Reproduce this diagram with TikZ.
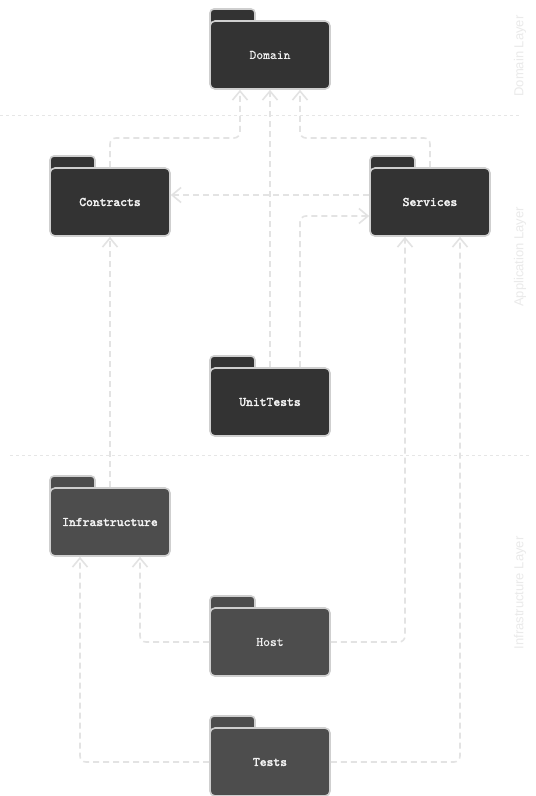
\documentclass[tikz,border=0pt]{standalone}
\usepackage{fontspec}
\setsansfont{Liberation Sans}
\newfontfamily\monob{lmmono10-regular.otf}[FakeBold=2.5]
\newfontfamily\monor{lmmono10-regular.otf}[FakeBold=0.3]
\usetikzlibrary{arrows.meta,calc}
\definecolor{darkA}{HTML}{333333}
\definecolor{darkB}{HTML}{4D4D4D}
\definecolor{foldline}{HTML}{CFCFCF}
\definecolor{foldtext}{HTML}{F2F2F2}
\definecolor{depcol}{HTML}{E3E3E3}
\definecolor{sepcol}{HTML}{E6E6E6}
\definecolor{labcol}{HTML}{EAEAEA}
\tikzset{
  folder/.style={draw=foldline, line width=1.6pt, rounded corners=5pt,
    minimum width=120pt, minimum height=68pt, inner sep=0pt,
    text=foldtext, font=\monor\fontsize{13}{15}\selectfont},
  tabbox/.style={draw=foldline, line width=1.6pt, rounded corners=4pt},
  upper/.style={fill=darkA},
  lower/.style={fill=darkB},
  dep/.style={draw=depcol, line width=1.6pt, dash pattern=on 6pt off 4pt,
    rounded corners=6pt, -{Straight Barb[length=9pt,width=15pt,line width=1.6pt]}},
  sep/.style={draw=sepcol, line width=1pt, dash pattern=on 3pt off 3pt},
  layerlabel/.style={rotate=90, text=labcol, inner sep=0pt,
    font=\sffamily\fontsize{13}{15}\selectfont}
}
\newcommand\pkgfolder[5]{%
  \draw[tabbox,#5] (#2-60,#3-46) rectangle (#2-15,#3-26);
  \node[folder,#5] (#1) at (#2,#3) {#4};}
\newcommand\bname[1]{{\monob #1}}
\begin{document}
\begin{tikzpicture}[x=1pt,y=-1pt]
\useasboundingbox (0,0) rectangle (536,796);
\fill[white] (0,0) rectangle (536,796);
% layer separators
\draw[sep] (0,115) -- (520,115);
\draw[sep] (10,455) -- (530,455);
% layer labels
\node[layerlabel] (ldom) at (520,56) {Domain Layer};
\node[layerlabel] (lapp) at (520,257) {Application Layer};
\node[layerlabel] (linf) at (520,593) {Infrastructure Layer};
% packages
\pkgfolder{D}{270}{55}{Domain}{upper}
\pkgfolder{C}{110}{202}{\bname{Contracts}}{upper}
\pkgfolder{S}{430}{202}{\bname{Services}}{upper}
\pkgfolder{U}{270}{402}{\bname{UnitTests}}{upper}
\pkgfolder{I}{110}{522}{\bname{Infrastructure}}{lower}
\pkgfolder{H}{270}{642}{Host}{lower}
\pkgfolder{T}{270}{762}{\bname{Tests}}{lower}
% dependencies
\draw[dep] (C.north) |- (240,138) -- ([xshift=-30pt]D.south);
\draw[dep] (U.north) -- (D.south);
\draw[dep] (S.north) |- (300,138) -- ([xshift=30pt]D.south);
\draw[dep] ([yshift=7pt]S.west) -- ([yshift=7pt]C.east);
\draw[dep] ([xshift=30pt]U.north) |- ([yshift=-14pt]S.west);
\draw[dep] (I.north) -- (C.south);
\draw[dep] (H.west) -| ([xshift=30pt]I.south);
\draw[dep] (H.east) -| ([xshift=-25pt]S.south);
\draw[dep] (T.west) -| ([xshift=-30pt]I.south);
\draw[dep] (T.east) -| ([xshift=30pt]S.south);
\end{tikzpicture}
\end{document}
